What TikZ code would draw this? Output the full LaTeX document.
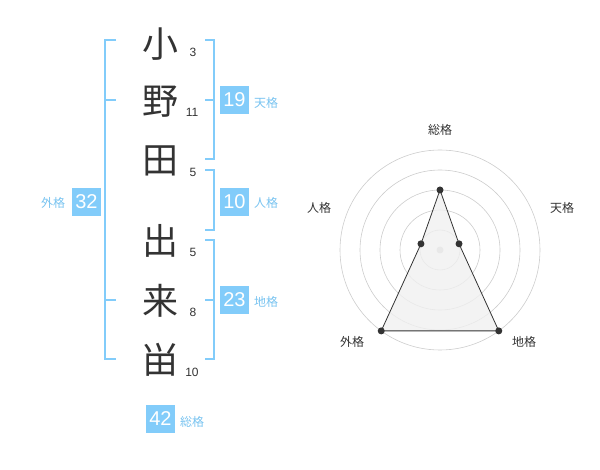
\documentclass[tikz,border=0pt]{standalone}
\usepackage{fontspec}
\usetikzlibrary{calc}
\setmainfont{Liberation Sans}
\newfontfamily\jp{Noto Sans CJK JP}
\definecolor{kblue}{RGB}{130,204,250}
\definecolor{klabel}{RGB}{120,195,240}
\definecolor{kdark}{RGB}{51,51,51}
\definecolor{kgrid}{RGB}{204,204,204}
\definecolor{kfill}{RGB}{240,240,240}
\tikzset{
  kanji/.style={inner sep=0pt, text=kdark, font=\jp\fontsize{36}{36}\selectfont},
  strokes/.style={inner sep=0pt, text=kdark, font=\fontsize{12}{12}\selectfont},
  valbox/.style={fill=kblue, text=white, minimum width=29pt, minimum height=28pt, inner sep=0pt, font=\fontsize{20}{20}\selectfont},
  vallabel/.style={inner sep=0pt, text=klabel, font=\jp\fontsize{12}{12}\selectfont},
  bracket/.style={draw=kblue, line width=1.6pt},
  axislabel/.style={inner sep=0pt, text=kdark, font=\jp\fontsize{12}{12}\selectfont},
  dot/.style={circle, fill=kdark, inner sep=0pt, minimum size=7pt},
}
\begin{document}
\begin{tikzpicture}[x=1pt,y=-1pt]
\useasboundingbox (0,0) rectangle (600,470);
% kanji
\node[kanji] (c1) at (160,44) {小};
\node[kanji] (c2) at (160,102) {野};
\node[kanji] (c3) at (160,161) {田};
\node[kanji] (c4) at (160,241) {出};
\node[kanji] (c5) at (160,301) {来};
\node[kanji] (c6) at (160,360) {畄};
% stroke counts
\node[strokes] (s1) at (193,52) {3};
\node[strokes] (s2) at (192,112) {11};
\node[strokes] (s3) at (193,172) {5};
\node[strokes] (s4) at (193,252) {5};
\node[strokes] (s5) at (193,312) {8};
\node[strokes] (s6) at (192,372) {10};
% brackets
\draw[bracket] (116,40) -- (105,40) -- (105,359) -- (116,359);
\draw[bracket] (105,100) -- (116,100);
\draw[bracket] (105,300) -- (116,300);
\draw[bracket] (205,40) -- (214,40) -- (214,159) -- (205,159);
\draw[bracket] (205,100) -- (214,100);
\draw[bracket] (205,170) -- (214,170) -- (214,230) -- (205,230);
\draw[bracket] (205,240) -- (214,240) -- (214,359) -- (205,359);
\draw[bracket] (205,300) -- (214,300);
% value boxes
\node[valbox] (ten) at (234.5,100) {19};
\node[vallabel] (tenl) at (266,103) {天格};
\node[valbox] (jin) at (234.5,202) {10};
\node[vallabel] (jinl) at (266,203) {人格};
\node[valbox] (chi) at (234.5,300) {23};
\node[vallabel] (chil) at (266,302) {地格};
\node[valbox] (gai) at (86.5,202) {32};
\node[vallabel] (gail) at (53,203) {外格};
\node[valbox] (sou) at (160.5,419) {42};
\node[vallabel] (soul) at (192,422) {総格};
% radar
\coordinate (o) at (440,250);
\foreach \r in {20,40,60,80,100} \draw[kgrid, line width=0.6pt] (o) circle (\r);
\node[circle, fill=kgrid, inner sep=0pt, minimum size=7pt] (ctr) at (o) {};
\coordinate (pS) at ($(o)+(0,-60)$);
\coordinate (pT) at ($(o)+(19.02,-6.18)$);
\coordinate (pC) at ($(o)+(58.78,80.9)$);
\coordinate (pG) at ($(o)+(-58.78,80.9)$);
\coordinate (pJ) at ($(o)+(-19.02,-6.18)$);
\draw[kdark, fill=kfill, fill opacity=0.8, line width=0.8pt] (pS) -- (pT) -- (pC) -- (pG) -- (pJ) -- cycle;
\foreach \p in {pS,pT,pC,pG,pJ} \node[dot] at (\p) {};
\node[axislabel] (aS) at (440,130) {総格};
\node[axislabel] (aT) at (562,208) {天格};
\node[axislabel] (aC) at (524,342) {地格};
\node[axislabel] (aG) at (352,342) {外格};
\node[axislabel] (aJ) at (319,208) {人格};
\end{tikzpicture}
\end{document}
